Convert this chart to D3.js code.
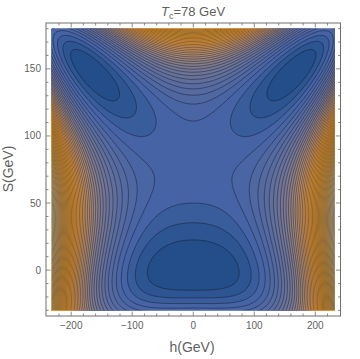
<!DOCTYPE html>
<html>
<head>
<meta charset="utf-8">
<script src="https://cdn.jsdelivr.net/npm/d3@7"></script>
<style>
body { margin: 0; background: #fff; }
text { font-family: "Liberation Sans", Arial, sans-serif; }
</style>
</head>
<body>
<svg id="chart" width="360" height="359"></svg>
<script>
// plot range (GeV)
var hRange = [-232, 232];
var sRange = [-30, 180];
var xTickValues = [-200, -100, 0, 100, 200];
var yTickValues = [0, 50, 100, 150];

// potential, in units of one contour spacing
// x = h/100, y = S/100
var massCoef = [0.968, 3.141, -6.23];      // x^2 * (a + b y + c y^2)
var quarticH = 1.44;                        // x^4
var singletMin = 0.01;                      // y of the central minimum
var singletCoef = [30.98, -47.80, 20.58];   // u^2, u^3, u^4, u = y - singletMin
var nLevels = 56;

// band colours against potential value
var colorAt = [0, 1, 3.5, 7, 12.5, 19, 25, 31, 40, 50];
var colorHex = ["#1f4a85", "#26518c", "#4563a5", "#576ba0", "#7a7a92", "#bb906c", "#ee9f3c", "#f6a52f", "#f5b54e", "#f3dca5"];

function potential(h, s) {
    var x = h / 100, y = s / 100, u = y - singletMin;
    var m = massCoef[0] + massCoef[1] * y + massCoef[2] * y * y;
    return singletCoef[0] * u * u + singletCoef[1] * u * u * u + singletCoef[2] * u * u * u * u
        + m * x * x + quarticH * x * x * x * x;
}

var svg = d3.select("#chart");
var hPad = 0.02 * (hRange[1] - hRange[0]),
    sPad = 0.02 * (sRange[1] - sRange[0]);
var x = d3.scaleLinear().domain([hRange[0] - hPad, hRange[1] + hPad]).range([46, 340.5]);
var y = d3.scaleLinear().domain([sRange[0] - sPad, sRange[1] + sPad]).range([316, 23]);

var color = d3.scaleLinear().domain(colorAt).range(colorHex).clamp(true);

var px0 = x(hRange[0]), px1 = x(hRange[1]),
    py0 = y(sRange[1]), py1 = y(sRange[0]);

svg.append("clipPath").attr("id", "clip")
    .append("rect")
    .attr("x", px0).attr("y", py0)
    .attr("width", px1 - px0).attr("height", py1 - py0);

// grid, 1px cells, a little larger than the plot so edges stay outside the clip
var gx0 = Math.floor(px0) - 3, gy0 = Math.floor(py0) - 3;
var nx = Math.ceil(px1 - px0) + 7, ny = Math.ceil(py1 - py0) + 7;
var values = new Array(nx * ny);
for (var j = 0; j < ny; j++) {
    for (var i = 0; i < nx; i++) {
        values[i + j * nx] = potential(x.invert(gx0 + i), y.invert(gy0 + j));
    }
}

var levels = d3.range(1, nLevels + 1);
var contours = d3.contours().size([nx, ny]).thresholds(levels)(values);
var path = d3.geoPath(d3.geoIdentity().translate([gx0 - 0.5, gy0 - 0.5]));

var plot = svg.append("g").attr("clip-path", "url(#clip)");
plot.append("rect")
    .attr("x", px0).attr("y", py0)
    .attr("width", px1 - px0).attr("height", py1 - py0)
    .attr("fill", color(0.5));

plot.selectAll("path.band")
    .data(contours)
    .enter().append("path")
    .attr("class", "band")
    .attr("d", path)
    .attr("fill", function(d) { return color(d.value + 0.5); })
    .attr("stroke", function(d) { return color(d.value + 0.5); })
    .attr("stroke-width", 0.3);

plot.selectAll("path.line")
    .data(contours)
    .enter().append("path")
    .attr("class", "line")
    .attr("d", path)
    .attr("fill", "none")
    .attr("stroke", "rgba(20,20,35,0.56)")
    .attr("stroke-width", 0.75);

// frame
var frameColor = "#6e6e6e";
svg.append("rect")
    .attr("x", 46).attr("y", 23)
    .attr("width", 294.5).attr("height", 293)
    .attr("fill", "none")
    .attr("stroke", frameColor)
    .attr("stroke-width", 1);

var xMinor = d3.range(-220, 221, 20),
    yMinor = d3.range(-30, 181, 10);

function tickLen(v, major) { return major.indexOf(v) >= 0 ? 4.5 : 2.5; }

var ticks = svg.append("g").attr("stroke", frameColor).attr("stroke-width", 0.8);
xMinor.forEach(function(v) {
    var L = tickLen(v, xTickValues), xp = x(v);
    ticks.append("line").attr("x1", xp).attr("x2", xp).attr("y1", 316).attr("y2", 316 - L);
    ticks.append("line").attr("x1", xp).attr("x2", xp).attr("y1", 23).attr("y2", 23 + L);
});
yMinor.forEach(function(v) {
    var L = tickLen(v, yTickValues), yp = y(v);
    ticks.append("line").attr("y1", yp).attr("y2", yp).attr("x1", 46).attr("x2", 46 + L);
    ticks.append("line").attr("y1", yp).attr("y2", yp).attr("x1", 340.5).attr("x2", 340.5 - L);
});

var labelColor = "#5f5f5f";
svg.append("g").selectAll("text")
    .data(xTickValues)
    .enter().append("text")
    .attr("x", function(d) { return x(d); })
    .attr("y", 329)
    .attr("text-anchor", "middle")
    .attr("font-size", 10)
    .attr("fill", labelColor)
    .text(function(d) { return d < 0 ? "\u2212" + (-d) : d; });

svg.append("g").selectAll("text")
    .data(yTickValues)
    .enter().append("text")
    .attr("x", 41)
    .attr("y", function(d) { return y(d) + 3.5; })
    .attr("text-anchor", "end")
    .attr("font-size", 10)
    .attr("fill", labelColor)
    .text(function(d) { return d; });

svg.append("text")
    .attr("x", 192).attr("y", 352)
    .attr("text-anchor", "middle")
    .attr("font-size", 14)
    .attr("fill", labelColor)
    .text("h(GeV)");

svg.append("text")
    .attr("transform", "translate(13,169) rotate(-90)")
    .attr("text-anchor", "middle")
    .attr("font-size", 14)
    .attr("fill", labelColor)
    .text("S(GeV)");

var title = svg.append("text")
    .attr("x", 193).attr("y", 16)
    .attr("text-anchor", "middle")
    .attr("font-size", 13)
    .attr("fill", labelColor);
title.append("tspan").attr("font-style", "italic").text("T");
title.append("tspan").attr("font-size", 9).attr("dy", 3).text("c");
title.append("tspan").attr("dy", -3).text("=78 GeV");
</script>
</body>
</html>
